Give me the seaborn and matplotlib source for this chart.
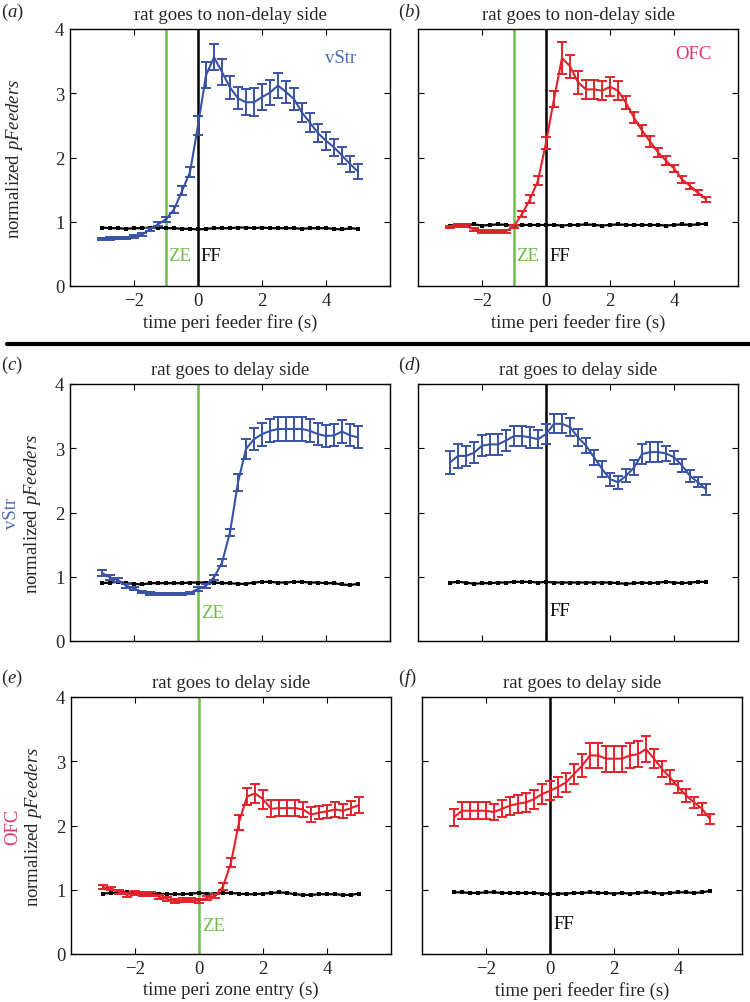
import numpy as np
import matplotlib.pyplot as plt
import seaborn as sns
from matplotlib.lines import Line2D

# time bins (s), one value per 250 ms bin
t = np.arange(-3, 5.01, 0.25)

# (a) vStr, rat goes to non-delay side, aligned on feeder fire
vstr_nd_ff = [0.73, 0.74, 0.75, 0.75, 0.77, 0.80, 0.88, 0.96, 1.04, 1.19, 1.48,
              1.77, 2.50, 3.28, 3.56, 3.33, 3.09, 2.92, 2.86, 2.86, 2.94, 3.01,
              3.12, 3.02, 2.91, 2.70, 2.54, 2.38, 2.26, 2.16, 2.03, 1.90, 1.78]
vstr_nd_ff_err = [0.02, 0.02, 0.02, 0.02, 0.02, 0.02, 0.02, 0.03, 0.04, 0.06,
                  0.07, 0.08, 0.15, 0.20, 0.20, 0.20, 0.18, 0.17, 0.20, 0.22,
                  0.20, 0.20, 0.20, 0.17, 0.17, 0.15, 0.15, 0.14, 0.14, 0.13,
                  0.13, 0.12, 0.12]
shuf_a = [0.91, 0.90, 0.90, 0.89, 0.90, 0.90, 0.91, 0.91, 0.90, 0.90, 0.89,
          0.89, 0.88, 0.89, 0.90, 0.90, 0.90, 0.91, 0.91, 0.90, 0.91, 0.90,
          0.90, 0.90, 0.90, 0.89, 0.90, 0.90, 0.90, 0.89, 0.88, 0.90, 0.89]

# (b) OFC, rat goes to non-delay side, aligned on feeder fire
ofc_nd_ff = [0.92, 0.94, 0.94, 0.88, 0.85, 0.85, 0.85, 0.85, 0.93, 1.12, 1.35,
             1.64, 2.23, 2.91, 3.55, 3.42, 3.17, 3.06, 3.06, 3.04, 3.10, 3.04,
             2.85, 2.62, 2.42, 2.25, 2.08, 1.95, 1.83, 1.66, 1.56, 1.45, 1.35]
ofc_nd_ff_err = [0.02, 0.02, 0.02, 0.02, 0.02, 0.02, 0.02, 0.02, 0.02, 0.04,
                 0.06, 0.07, 0.09, 0.12, 0.25, 0.18, 0.18, 0.15, 0.15, 0.15,
                 0.15, 0.15, 0.10, 0.09, 0.08, 0.08, 0.07, 0.07, 0.06, 0.05,
                 0.05, 0.04, 0.04]
shuf_b = [0.94, 0.95, 0.95, 0.96, 0.94, 0.95, 0.96, 0.95, 0.94, 0.95, 0.95,
          0.95, 0.95, 0.95, 0.94, 0.95, 0.95, 0.96, 0.95, 0.94, 0.95, 0.96,
          0.95, 0.95, 0.95, 0.95, 0.95, 0.94, 0.95, 0.96, 0.95, 0.96, 0.97]

# (c) vStr, rat goes to delay side, aligned on zone entry
vstr_d_ze = [1.06, 0.99, 0.95, 0.86, 0.82, 0.76, 0.74, 0.73, 0.73, 0.73, 0.73,
             0.75, 0.81, 0.86, 0.99, 1.22, 1.69, 2.47, 2.99, 3.14, 3.22, 3.27,
             3.30, 3.30, 3.30, 3.30, 3.27, 3.22, 3.19, 3.20, 3.26, 3.20, 3.17]
vstr_d_ze_err = [0.05, 0.04, 0.03, 0.03, 0.02, 0.02, 0.02, 0.02, 0.02, 0.02,
                 0.02, 0.02, 0.03, 0.03, 0.04, 0.05, 0.06, 0.13, 0.15, 0.17,
                 0.18, 0.18, 0.18, 0.18, 0.18, 0.18, 0.18, 0.17, 0.17, 0.17,
                 0.18, 0.17, 0.17]
shuf_c = [0.90, 0.91, 0.92, 0.90, 0.89, 0.88, 0.90, 0.90, 0.90, 0.90, 0.90,
          0.91, 0.91, 0.91, 0.91, 0.90, 0.90, 0.89, 0.89, 0.91, 0.92, 0.92,
          0.91, 0.91, 0.92, 0.92, 0.91, 0.91, 0.90, 0.90, 0.88, 0.87, 0.89]

# (d) vStr, rat goes to delay side, aligned on feeder fire
vstr_d_ff = [2.78, 2.88, 2.88, 2.93, 3.04, 3.06, 3.06, 3.12, 3.19, 3.19, 3.17,
             3.14, 3.22, 3.38, 3.38, 3.33, 3.17, 3.04, 2.86, 2.68, 2.52, 2.47,
             2.57, 2.70, 2.91, 2.94, 2.94, 2.92, 2.86, 2.73, 2.57, 2.47, 2.36]
vstr_d_ff_err = [0.18, 0.18, 0.16, 0.16, 0.16, 0.16, 0.16, 0.16, 0.16, 0.16,
                 0.16, 0.14, 0.15, 0.15, 0.15, 0.14, 0.13, 0.12, 0.12, 0.12,
                 0.10, 0.10, 0.10, 0.12, 0.15, 0.15, 0.15, 0.12, 0.10, 0.10,
                 0.09, 0.08, 0.08]
shuf_d = [0.91, 0.92, 0.91, 0.89, 0.90, 0.90, 0.91, 0.91, 0.92, 0.92, 0.92,
          0.91, 0.92, 0.91, 0.91, 0.91, 0.91, 0.91, 0.91, 0.91, 0.91, 0.90,
          0.89, 0.90, 0.91, 0.90, 0.91, 0.92, 0.91, 0.90, 0.91, 0.92, 0.92]

# (e) OFC, rat goes to delay side, aligned on zone entry
ofc_d_ze = [1.04, 1.02, 0.97, 0.92, 0.95, 0.94, 0.93, 0.89, 0.86, 0.82, 0.84,
            0.84, 0.83, 0.87, 0.90, 1.05, 1.42, 2.05, 2.45, 2.50, 2.41, 2.26,
            2.27, 2.27, 2.27, 2.25, 2.17, 2.20, 2.22, 2.25, 2.23, 2.27, 2.32]
ofc_d_ze_err = [0.03, 0.03, 0.03, 0.03, 0.03, 0.03, 0.03, 0.03, 0.03, 0.03,
                0.03, 0.03, 0.03, 0.03, 0.03, 0.05, 0.07, 0.12, 0.13, 0.15,
                0.15, 0.13, 0.12, 0.12, 0.12, 0.12, 0.12, 0.10, 0.10, 0.11,
                0.11, 0.11, 0.12]
shuf_e = [0.94, 0.95, 0.96, 0.96, 0.95, 0.94, 0.94, 0.94, 0.93, 0.93, 0.93,
          0.94, 0.95, 0.94, 0.94, 0.95, 0.95, 0.94, 0.93, 0.93, 0.94, 0.95,
          0.96, 0.95, 0.93, 0.92, 0.92, 0.93, 0.93, 0.93, 0.92, 0.92, 0.94]

# (f) OFC, rat goes to delay side, aligned on feeder fire
ofc_d_ff = [2.13, 2.23, 2.23, 2.23, 2.23, 2.21, 2.26, 2.31, 2.34, 2.36, 2.41,
            2.49, 2.54, 2.60, 2.67, 2.80, 2.93, 3.09, 3.09, 3.04, 3.04, 3.04,
            3.09, 3.11, 3.19, 3.04, 2.88, 2.75, 2.60, 2.47, 2.36, 2.26, 2.10]
ofc_d_ff_err = [0.13, 0.13, 0.13, 0.13, 0.13, 0.13, 0.13, 0.14, 0.14, 0.15,
                0.15, 0.15, 0.15, 0.15, 0.15, 0.16, 0.18, 0.20, 0.20, 0.20,
                0.20, 0.20, 0.20, 0.20, 0.20, 0.15, 0.12, 0.11, 0.10, 0.10,
                0.09, 0.09, 0.08]
shuf_f = [0.96, 0.96, 0.95, 0.95, 0.96, 0.96, 0.95, 0.95, 0.95, 0.95, 0.95,
          0.94, 0.93, 0.94, 0.94, 0.95, 0.95, 0.96, 0.95, 0.95, 0.94, 0.95,
          0.94, 0.95, 0.96, 0.95, 0.94, 0.95, 0.96, 0.96, 0.95, 0.96, 0.98]

BLUE = "#3953a4"
RED = "#e3222b"
GREEN = "#6cbf4a"
VSTR_TXT = "#4a6cb3"
OFC_TXT = "#e0336d"

sns.set_theme(style="ticks")
plt.rcParams["font.family"] = ["Liberation Serif", "DejaVu Serif"]
plt.rcParams["mathtext.fontset"] = "custom"
plt.rcParams["mathtext.rm"] = "Liberation Serif"
plt.rcParams["mathtext.it"] = "Liberation Serif:italic"
plt.rcParams["xtick.direction"] = "in"
plt.rcParams["ytick.direction"] = "in"
plt.rcParams["xtick.top"] = True
plt.rcParams["ytick.right"] = True
plt.rcParams["axes.edgecolor"] = "black"
plt.rcParams["axes.linewidth"] = 1.0

W, H = 750, 1003
FS = 13.5
YLABEL = r"normalized $\it{pFeeders}$"


def px_rect(left, top, right, bottom):
    """Axes rectangle from pixel edges of the reference."""
    return [left / W, 1 - bottom / H, (right - left) / W, (bottom - top) / H]


def draw_panel(ax, mean, err, color, shuffle, zone=None, feeder=None):
    """One peri-event panel: decoded pFeeders with SEM bars + shuffle baseline."""
    if zone is not None:
        ax.axvline(zone, color=GREEN, lw=1.8, zorder=1)
    if feeder is not None:
        ax.axvline(feeder, color="black", lw=1.8, zorder=1)
    sns.lineplot(x=t, y=shuffle, color="black", lw=1.6, marker="s",
                 markersize=3, markeredgewidth=0, ax=ax, zorder=3)
    sns.lineplot(x=t, y=mean, color=color, lw=1.5, ax=ax, zorder=4)
    ax.errorbar(t, mean, yerr=err, fmt="none", ecolor=color, elinewidth=1.4,
                capsize=3.5, capthick=1.4, zorder=4)
    ax.set_xlim(-4, 6)
    ax.set_ylim(0, 4)
    ax.set_xticks([-2, 0, 2, 4])
    ax.set_yticks([0, 1, 2, 3, 4])
    ax.set_xticklabels(["\u22122", "0", "2", "4"])
    ax.tick_params(labelsize=FS, length=4, width=0.8, color="black", pad=4)
    ax.set_xlabel("")
    ax.set_ylabel("")


fig = plt.figure(figsize=(7.5, 10.03), dpi=100)

ax_a = fig.add_axes(px_rect(70, 30, 390, 287))
ax_b = fig.add_axes(px_rect(418, 30, 738, 287))
ax_c = fig.add_axes(px_rect(70, 385, 390, 642))
ax_d = fig.add_axes(px_rect(418, 385, 738, 642))
ax_e = fig.add_axes(px_rect(71, 698, 391, 955))
ax_f = fig.add_axes(px_rect(422, 698, 742, 955))

draw_panel(ax_a, vstr_nd_ff, vstr_nd_ff_err, BLUE, shuf_a, zone=-1, feeder=0)
draw_panel(ax_b, ofc_nd_ff, ofc_nd_ff_err, RED, shuf_b, zone=-1, feeder=0)
draw_panel(ax_c, vstr_d_ze, vstr_d_ze_err, BLUE, shuf_c, zone=0)
draw_panel(ax_d, vstr_d_ff, vstr_d_ff_err, BLUE, shuf_d, feeder=0)
draw_panel(ax_e, ofc_d_ze, ofc_d_ze_err, RED, shuf_e, zone=0)
draw_panel(ax_f, ofc_d_ff, ofc_d_ff_err, RED, shuf_f, feeder=0)

# titles
for ax, title in [(ax_a, "rat goes to non-delay side"),
                  (ax_b, "rat goes to non-delay side"),
                  (ax_c, "rat goes to delay side"),
                  (ax_d, "rat goes to delay side"),
                  (ax_e, "rat goes to delay side"),
                  (ax_f, "rat goes to delay side")]:
    ax.set_title(title, fontsize=FS, pad=7)

# right column: no y tick labels; middle row: no x tick labels
for ax in (ax_b, ax_d, ax_f):
    ax.tick_params(labelleft=False)
for ax in (ax_c, ax_d):
    ax.tick_params(labelbottom=False)

for ax, lab in [(ax_a, "time peri feeder fire (s)"),
                (ax_b, "time peri feeder fire (s)"),
                (ax_e, "time peri zone entry (s)"),
                (ax_f, "time peri feeder fire (s)")]:
    ax.set_xlabel(lab, fontsize=FS, labelpad=3)

# y labels
ax_a.set_ylabel(YLABEL, fontsize=FS)
ax_a.yaxis.set_label_coords(-0.14, 0.5)
for ax, region, col in [(ax_c, "vStr", VSTR_TXT), (ax_e, "OFC", OFC_TXT)]:
    ax.set_ylabel(YLABEL, fontsize=FS)
    ax.yaxis.set_label_coords(-0.085, 0.5)
    ax.text(-0.155, 0.5, region, color=col, fontsize=FS, rotation=90,
            rotation_mode="anchor", ha="center", va="bottom",
            transform=ax.transAxes)

# region tags inside the top row
ax_a.text(4.45, 3.55, "vStr", color=VSTR_TXT, fontsize=FS, ha="center", va="center")
ax_b.text(4.6, 3.62, "OFC", color=OFC_TXT, fontsize=FS, ha="center", va="center")

# event markers
ev = dict(fontsize=FS, va="center", ha="left")
ax_a.text(-0.95, 0.48, "ZE", color=GREEN, **ev)
ax_a.text(0.08, 0.48, "FF", color="black", **ev)
ax_b.text(-0.92, 0.48, "ZE", color=GREEN, **ev)
ax_b.text(0.10, 0.48, "FF", color="black", **ev)
ax_c.text(0.10, 0.45, "ZE", color=GREEN, **ev)
ax_d.text(0.10, 0.47, "FF", color="black", **ev)
ax_e.text(0.10, 0.44, "ZE", color=GREEN, **ev)
ax_f.text(0.10, 0.47, "FF", color="black", **ev)

# panel letters
for lab, xp, yp in [("a", 1, 12), ("b", 398, 12), ("c", 1, 365),
                    ("d", 398, 365), ("e", 1, 678), ("f", 398, 678)]:
    fig.text(xp / W, 1 - yp / H, rf"($\it{{{lab}}}$)", fontsize=FS,
             ha="left", va="center")

# separator between the non-delay and delay rows
fig.add_artist(Line2D([7 / W, 1.0], [1 - 345 / H] * 2, color="black", lw=3,
                      transform=fig.transFigure))

fig.savefig("out.png", dpi=100)
